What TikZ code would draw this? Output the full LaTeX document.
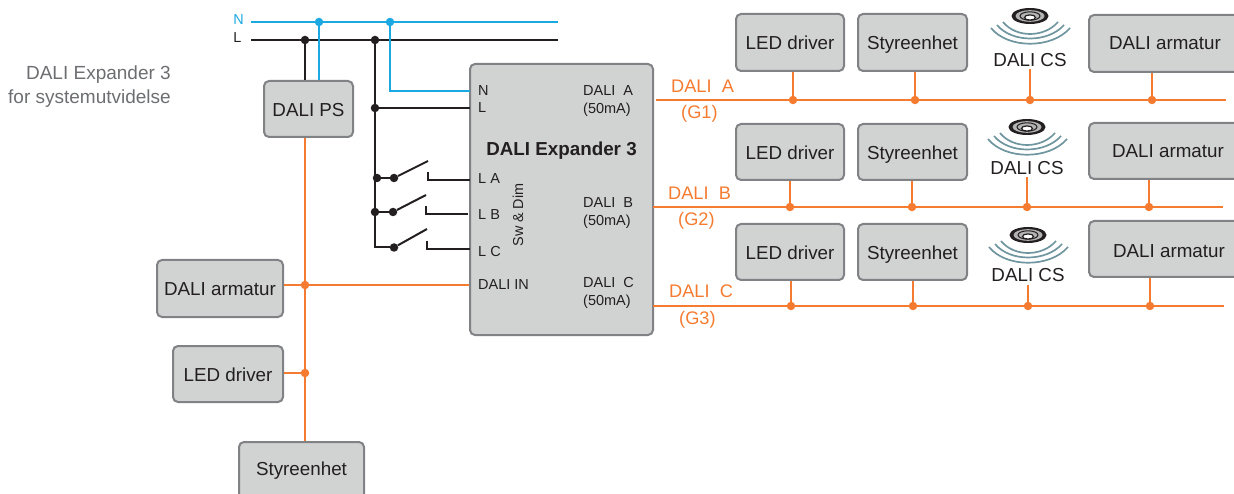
\documentclass[tikz,border=0pt]{standalone}
\usepackage{fontspec}
\setmainfont{Liberation Sans}
\definecolor{cOr}{HTML}{F47B30}
\definecolor{cBl}{HTML}{1CA8E0}
\definecolor{cBk}{HTML}{231F20}
\definecolor{cFill}{HTML}{D1D3D2}
\definecolor{cEdge}{HTML}{808285}
\definecolor{cGr}{HTML}{6D6E71}
\definecolor{cWave}{HTML}{6F959F}
\tikzset{
  boxn/.style={draw=cEdge,fill=cFill,line width=2pt,rounded corners=5pt,inner sep=0pt,text=cBk,text depth=0pt,font=\fontsize{18.8}{20}\selectfont},
  lab/.style={inner sep=0pt,text=cBk,font=\fontsize{18.8}{20}\selectfont},
  small/.style={inner sep=0pt,anchor=west,text=cBk,font=\fontsize{14.5}{15}\selectfont},
  olab/.style={inner sep=0pt,anchor=west,text=cOr,font=\fontsize{18.2}{20}\selectfont},
  wireO/.style={draw=cOr,line width=2pt},
  wireB/.style={draw=cBl,line width=2pt},
  wireK/.style={draw=cBk,line width=2pt},
  dotO/.style={circle,fill=cOr,inner sep=0pt,minimum size=8.5pt},
  dotB/.style={circle,fill=cBl,inner sep=0pt,minimum size=8.5pt},
  dotK/.style={circle,fill=cBk,inner sep=0pt,minimum size=8.5pt},
}
\newcommand{\boxat}[6]{\node[boxn,minimum width=#3 pt-#2 pt,minimum height=#5 pt-#4 pt] (#1) at ({(#2+#3)/2},{(#4+#5)/2}) {\raisebox{-1pt}{#6}};}
\newcommand{\sensoricon}[2]{%
  \fill[cBk] (#1,#2) ellipse [x radius=18.5,y radius=8];
  \fill[cFill!85!black] (#1,#2) ellipse [x radius=14.5,y radius=5.8];
  \draw[cBk,line width=1pt] (#1,#2) ellipse [x radius=10,y radius=4.2];
  \fill[white,draw=cBk,line width=1.2pt] (#1,#2+1.5) ellipse [x radius=5.5,y radius=2.6];
  \draw[cWave,line width=1.7pt] (#1-39,#2+12) .. controls (#1-22,#2+33) and (#1+22,#2+33) .. (#1+40,#2+12);
  \draw[cWave,line width=1.7pt] (#1-33,#2+9) .. controls (#1-18,#2+27) and (#1+18,#2+27) .. (#1+34,#2+9);
  \draw[cWave,line width=1.7pt] (#1-27,#2+6) .. controls (#1-14,#2+22) and (#1+14,#2+22) .. (#1+28,#2+6);
}
\begin{document}
\begin{tikzpicture}[x=1pt,y=-1pt]
\useasboundingbox (0,0) rectangle (1234,494);

% mains
\coordinate (Ns) at (251,22); \coordinate (Ne) at (558,22);
\coordinate (Ls) at (251,40); \coordinate (Le) at (558,40);
\node[inner sep=0pt,text=cBl,font=\fontsize{14.4}{15}\selectfont] (tN) at (238.5,19.5) {N};
\node[inner sep=0pt,text=cBk,font=\fontsize{14.4}{15}\selectfont] (tL) at (237.5,37.5) {L};

\node[inner sep=0pt,align=right,anchor=east,text=cGr,font=\fontsize{19}{24}\selectfont] (title) at (171,87) {DALI Expander 3\\for systemutvidelse};

% boxes
\boxat{ps}{264}{353}{81}{137}{DALI PS}
\boxat{exp}{470}{653}{64}{335}{}
\boxat{larm}{157}{283}{260}{317}{DALI armatur}
\boxat{lled}{173}{283}{346}{402}{LED driver}
\boxat{lsty}{239}{364}{442}{500}{}
\node[lab] (tlsty) at (301.5,471) {Styreenhet};

\boxat{ledA}{736}{844}{14}{71}{LED driver}
\boxat{styA}{858}{967}{14}{71}{Styreenhet}
\boxat{armA}{1089}{1240}{15}{72}{}
\node[lab] (tarmA) at (1165,43) {DALI armatur};
\boxat{ledB}{736}{844}{124}{180}{LED driver}
\boxat{styB}{858}{967}{124}{180}{Styreenhet}
\boxat{armB}{1089}{1240}{123}{179}{}
\node[lab] (tarmB) at (1168,151) {DALI armatur};
\boxat{ledC}{736}{844}{224}{280}{LED driver}
\boxat{styC}{858}{967}{224}{280}{Styreenhet}
\boxat{armC}{1089}{1240}{221}{277}{}
\node[lab] (tarmC) at (1169,251) {DALI armatur};

% sensors
\sensoricon{1030}{16}
\node[lab] (csA) at (1030,60) {DALI CS};
\sensoricon{1027}{127}
\node[lab] (csB) at (1027,168) {DALI CS};
\sensoricon{1028}{235}
\node[lab] (csC) at (1028,275) {DALI CS};

% expander labels
\node[small] (eN) at (478,91) {N};
\node[small] (eL) at (478,108) {L};
\node[small] (eLA) at (478,179) {L A};
\node[small] (eLB) at (478,215) {L B};
\node[small] (eLC) at (478,252) {L C};
\node[small] (eIN) at (478,285) {DALI IN};
\node[small] (eA) at (583,91) {DALI\ \ A};
\node[small] (eAm) at (583,109.5) {(50mA)};
\node[small] (eB) at (583,203) {DALI\ \ B};
\node[small] (eBm) at (583,221.5) {(50mA)};
\node[small] (eC) at (583,283) {DALI\ \ C};
\node[small] (eCm) at (583,301.5) {(50mA)};
\node[inner sep=0pt,text=cBk,font=\bfseries\fontsize{18.8}{20}\selectfont] (eT) at (561.5,151) {DALI Expander 3};
\node[inner sep=0pt,text=cBk,rotate=90,font=\fontsize{14.4}{15}\selectfont] (eS) at (518,215) {Sw \& Dim};

% mains wires
\draw[wireB] (Ns) -- (Ne);
\draw[wireK] (Ls) -- (Le);
\node[dotB] (nA) at (319,22) {};
\node[dotB] (nB) at (390,22) {};
\node[dotK] (lA) at (305,40) {};
\node[dotK] (lB) at (375,40) {};
\draw[wireK] (lA) -- (lA |- ps.north);
\draw[wireB] (nA) -- (nA |- ps.north);
\coordinate (eNp) at (470,91);
\draw[wireB] (nB) |- (eNp);
\node[dotK] (j1) at (375,108) {};
\coordinate (eLp) at (470,108);
\draw[wireK] (j1) -- (eLp);

% switches
\node[dotK] (j2) at (377,178) {};
\node[dotK] (j3) at (375,212) {};
\node[dotK] (s1) at (394,178) {};
\node[dotK] (s2) at (393,212) {};
\node[dotK] (s3) at (394,247.5) {};
\draw[wireK] (lB) |- (s3);
\draw[wireK] (j2) -- (s1);
\draw[wireK] (j3) -- (s2);
\coordinate (a1) at (428,161); \coordinate (a2) at (426,195); \coordinate (a3) at (427,229);
\draw[wireK] (s1) -- (a1);
\draw[wireK] (s2) -- (a2);
\draw[wireK] (s3) -- (a3);
\coordinate (c1) at (428,172); \coordinate (c1e) at (470,180);
\coordinate (c2) at (426,206); \coordinate (c2e) at (468,214);
\coordinate (c3) at (427,241); \coordinate (c3e) at (470,249);
\draw[wireK] (c1) |- (c1e);
\draw[wireK] (c2) |- (c2e);
\draw[wireK] (c3) |- (c3e);

% left DALI bus
\node[dotO] (d1) at (305,285) {};
\node[dotO] (d2) at (305,373) {};
\draw[wireO] (ps.south -| d1) -- (d1) -- (d2) -- (d2 |- lsty.north);
\draw[wireO] (larm.east |- d1) -- (d1) -- (exp.west |- d1);
\draw[wireO] (lled.east |- d2) -- (d2);

% right DALI lines
\coordinate (ao) at (656,100); \coordinate (ae) at (1226,100);
\coordinate (bo) at (653,207); \coordinate (be) at (1223,207);
\coordinate (co) at (653,306); \coordinate (ce) at (1224,306);
\draw[wireO] (ao) -- (ae);
\draw[wireO] (bo) -- (be);
\draw[wireO] (co) -- (ce);
\node[dotO] (a1d) at (793,100) {};
\node[dotO] (a2d) at (915,100) {};
\node[dotO] (a3d) at (1030,100) {};
\node[dotO] (a4d) at (1152,100) {};
\node[dotO] (b1d) at (790,207) {};
\node[dotO] (b2d) at (912,207) {};
\node[dotO] (b3d) at (1027,207) {};
\node[dotO] (b4d) at (1149,207) {};
\node[dotO] (c1d) at (791,306) {};
\node[dotO] (c2d) at (913,306) {};
\node[dotO] (c3d) at (1028,306) {};
\node[dotO] (c4d) at (1150,306) {};
\draw[wireO] (a1d) -- (a1d |- ledA.south);
\draw[wireO] (a2d) -- (a2d |- styA.south);
\draw[wireO] (a3d) -- (1030,69);
\draw[wireO] (a4d) -- (a4d |- armA.south);
\draw[wireO] (b1d) -- (b1d |- ledB.south);
\draw[wireO] (b2d) -- (b2d |- styB.south);
\draw[wireO] (b3d) -- (1027,177);
\draw[wireO] (b4d) -- (b4d |- armB.south);
\draw[wireO] (c1d) -- (c1d |- ledC.south);
\draw[wireO] (c2d) -- (c2d |- styC.south);
\draw[wireO] (c3d) -- (1028,285);
\draw[wireO] (c4d) -- (c4d |- armC.south);

\node[olab] (oA) at (671,86) {DALI\ \ A};
\node[olab] (oAg) at (681,113.5) {(G1)};
\node[olab] (oB) at (668,193) {DALI\ \ B};
\node[olab] (oBg) at (678,220.5) {(G2)};
\node[olab] (oC) at (669,291) {DALI\ \ C};
\node[olab] (oCg) at (679,319.5) {(G3)};
\end{tikzpicture}
\end{document}
